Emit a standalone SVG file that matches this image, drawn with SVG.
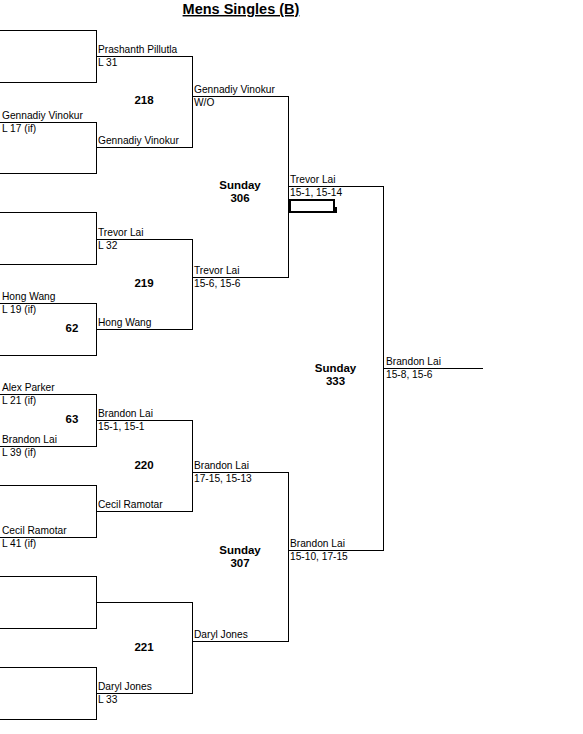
<svg xmlns="http://www.w3.org/2000/svg" width="583" height="734" viewBox="0 0 583 734">
<style>
.ln{fill:none;stroke:#000;stroke-width:1;shape-rendering:crispEdges}
.t{font-family:"Liberation Sans",Arial,sans-serif;font-size:10.2px;fill:#000}
.b{font-family:"Liberation Sans",Arial,sans-serif;font-size:11.5px;font-weight:bold;fill:#000;text-anchor:middle}
.title{font-family:"Liberation Sans",Arial,sans-serif;font-size:14.5px;font-weight:bold;fill:#000;text-anchor:middle;text-decoration:underline}
</style>
<rect width="583" height="734" fill="#fff"/>
<text class="title" x="241" y="14">Mens Singles (B)</text>
<g id="connectors">
<path class="ln" d="M0 30.5H96.5V82.5H0"/>
<path class="ln" d="M0 122.5H96.5V173.5H0"/>
<path class="ln" d="M0 212.5H96.5V264.5H0"/>
<path class="ln" d="M0 303.5H96.5V355.5H0"/>
<path class="ln" d="M0 394.5H96.5V446.5H0"/>
<path class="ln" d="M0 485.5H96.5V537.5H0"/>
<path class="ln" d="M0 576.5H96.5V628.5H0"/>
<path class="ln" d="M0 667.5H96.5V719.5H0"/>
<path class="ln" d="M96 56.5H192.5V147.5H96"/>
<path class="ln" d="M96 239.5H192.5V329.5H96"/>
<path class="ln" d="M96 420.5H192.5V511.5H96"/>
<path class="ln" d="M96 602.5H192.5V693.5H96"/>
<path class="ln" d="M192 96.5H288.5V277.5H192"/>
<path class="ln" d="M192 472.5H288.5V641.5H192"/>
<path class="ln" d="M288 186.5H383.5V550.5H288"/>
<path class="ln" d="M383 368.5H483"/>
</g>
<g id="selection">
<rect x="290" y="200" width="44" height="12" fill="none" stroke="#000" stroke-width="2.5" shape-rendering="crispEdges"/>
<rect x="333" y="207" width="4" height="6" fill="#000" shape-rendering="crispEdges"/>
</g>
<g id="entry-62">
<text class="t" x="2" y="119">Gennadiy Vinokur</text>
<text class="t" x="2" y="132">L 17 (if)</text>
<text class="t" x="2" y="300">Hong Wang</text>
<text class="t" x="2" y="313">L 19 (if)</text>
<text class="b" x="72" y="332">62</text>
</g>
<g id="entry-63">
<text class="t" x="2" y="391">Alex Parker</text>
<text class="t" x="2" y="404">L 21 (if)</text>
<text class="t" x="2" y="443">Brandon Lai</text>
<text class="t" x="2" y="456">L 39 (if)</text>
<text class="b" x="72" y="423">63</text>
<text class="t" x="2" y="534">Cecil Ramotar</text>
<text class="t" x="2" y="547">L 41 (if)</text>
</g>
<g id="match-218">
<text class="t" x="98" y="53">Prashanth Pillutla</text>
<text class="t" x="98" y="66">L 31</text>
<text class="t" x="98" y="144">Gennadiy Vinokur</text>
<text class="b" x="144" y="104">218</text>
<text class="t" x="194" y="93">Gennadiy Vinokur</text>
<text class="t" x="194" y="106">W/O</text>
</g>
<g id="match-219">
<text class="t" x="98" y="236">Trevor Lai</text>
<text class="t" x="98" y="249">L 32</text>
<text class="t" x="98" y="326">Hong Wang</text>
<text class="b" x="144" y="287">219</text>
<text class="t" x="194" y="274">Trevor Lai</text>
<text class="t" x="194" y="287">15-6, 15-6</text>
</g>
<g id="match-220">
<text class="t" x="98" y="417">Brandon Lai</text>
<text class="t" x="98" y="430">15-1, 15-1</text>
<text class="t" x="98" y="508">Cecil Ramotar</text>
<text class="b" x="144" y="469">220</text>
<text class="t" x="194" y="469">Brandon Lai</text>
<text class="t" x="194" y="482">17-15, 15-13</text>
</g>
<g id="match-221">
<text class="t" x="98" y="690">Daryl Jones</text>
<text class="t" x="98" y="703">L 33</text>
<text class="b" x="144" y="651">221</text>
<text class="t" x="194" y="638">Daryl Jones</text>
</g>
<g id="match-306">
<text class="b" x="240" y="189">Sunday</text>
<text class="b" x="240" y="202">306</text>
<text class="t" x="290" y="183">Trevor Lai</text>
<text class="t" x="290" y="196">15-1, 15-14</text>
</g>
<g id="match-307">
<text class="b" x="240" y="554">Sunday</text>
<text class="b" x="240" y="567">307</text>
<text class="t" x="290" y="547">Brandon Lai</text>
<text class="t" x="290" y="560">15-10, 17-15</text>
</g>
<g id="match-333">
<text class="b" x="335.5" y="372">Sunday</text>
<text class="b" x="335.5" y="385">333</text>
<text class="t" x="386" y="365">Brandon Lai</text>
<text class="t" x="386" y="378">15-8, 15-6</text>
</g>
</svg>
